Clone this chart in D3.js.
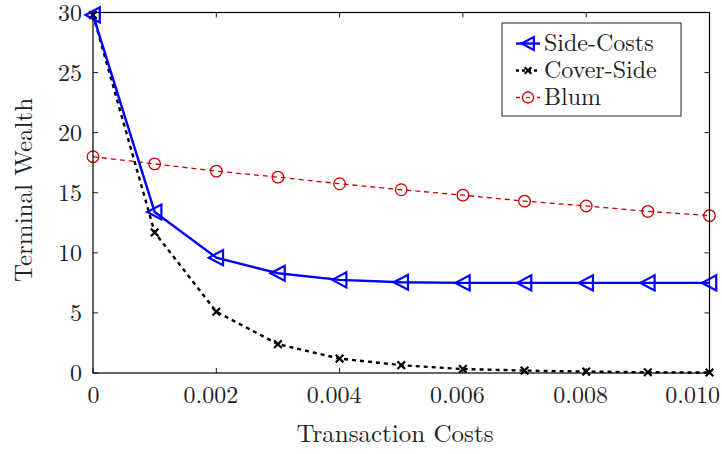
<!DOCTYPE html>
<html>
<head>
<meta charset="utf-8">
<script src="https://cdn.jsdelivr.net/npm/d3@7"></script>
<style>
  html, body { margin: 0; padding: 0; background: #fff; }
  svg { display: block; }
</style>
</head>
<body>
<div id="chart"></div>
<script>
// Transaction cost levels (x) and terminal wealth for each strategy
const costs = [0, 0.001, 0.002, 0.003, 0.004, 0.005, 0.006, 0.007, 0.008, 0.009, 0.010];
const sideCosts = [29.8, 13.4, 9.6, 8.3, 7.75, 7.55, 7.5, 7.5, 7.5, 7.5, 7.5];
const coverSide = [29.8, 11.7, 5.1, 2.4, 1.2, 0.65, 0.33, 0.2, 0.12, 0.06, 0.04];
const blum = [18.0, 17.4, 16.8, 16.3, 15.75, 15.25, 14.8, 14.3, 13.9, 13.45, 13.1];

const xTicks = [0, 0.002, 0.004, 0.006, 0.008, 0.010];
const xTickLabels = ["0", "0.002", "0.004", "0.006", "0.008", "0.010"];
const yTicks = [0, 5, 10, 15, 20, 25, 30];

const seriesNames = ["Side-Costs", "Cover-Side", "Blum"];

const FONT = "'Latin Modern Roman', 'Liberation Serif', serif";
const FS = 24;
const FS_TITLE = 25;
const INK = "#222";

const W = 722, H = 454;
const margin = { left: 93, right: 12.5, top: 12.5, bottom: 81 };

const svg = d3.select("#chart").append("svg")
  .attr("width", W).attr("height", H);

const x = d3.scaleLinear().domain([0, 0.010]).range([margin.left, W - margin.right]);
const y = d3.scaleLinear().domain([0, 30]).range([H - margin.bottom, margin.top]);

const x0 = x.range()[0], x1 = x.range()[1];
const y0 = y.range()[0], y1 = y.range()[1];

// Inward ticks on all four sides
const tickLen = 5;
const ticks = svg.append("g").attr("stroke", "#000").attr("stroke-width", 0.9);
xTicks.forEach(t => {
  ticks.append("line").attr("x1", x(t)).attr("x2", x(t)).attr("y1", y0).attr("y2", y0 - tickLen);
  ticks.append("line").attr("x1", x(t)).attr("x2", x(t)).attr("y1", y1).attr("y2", y1 + tickLen);
});
yTicks.forEach(t => {
  ticks.append("line").attr("x1", x0).attr("x2", x0 + tickLen).attr("y1", y(t)).attr("y2", y(t));
  ticks.append("line").attr("x1", x1).attr("x2", x1 - tickLen).attr("y1", y(t)).attr("y2", y(t));
});

// Tick labels via d3 axes (lines hidden, only text kept)
const xAxis = d3.axisBottom(x).tickValues(xTicks).tickSize(0).tickPadding(0)
  .tickFormat((d, i) => xTickLabels[i]);
const gx = svg.append("g").attr("transform", `translate(0,${y0})`).call(xAxis);
gx.select(".domain").remove();
gx.selectAll("text")
  .style("font-family", FONT).style("font-size", FS + "px").attr("fill", INK)
  .attr("dy", null).attr("y", 30)
  .each(function (d, i) {
    const t = d3.select(this);
    if (i === xTicks.length - 1) {
      t.attr("text-anchor", "end").attr("x", 10);
    } else if (i > 0) {
      t.attr("x", -6);
    }
  });

const yAxis = d3.axisLeft(y).tickValues(yTicks).tickSize(0).tickPadding(11);
const gy = svg.append("g").attr("transform", `translate(${x0},0)`).call(yAxis);
gy.select(".domain").remove();
gy.selectAll("text")
  .style("font-family", FONT).style("font-size", FS + "px").attr("fill", INK)
  .attr("dy", "0.33em");

// Axis titles
svg.append("text").attr("x", 395).attr("y", 442).attr("text-anchor", "middle")
  .style("font-family", FONT).style("font-size", FS_TITLE + "px").attr("fill", INK)
  .text("Transaction Costs");
svg.append("text").attr("transform", "translate(32,190) rotate(-90)").attr("text-anchor", "middle")
  .style("font-family", FONT).style("font-size", FS_TITLE + "px").attr("fill", INK)
  .text("Terminal Wealth");

const line = d3.line().x(d => x(d[0])).y(d => y(d[1]));
const plot = svg.append("g");

const triPath = s => `M${-s},0 L${s * 0.9},${-s} L${s * 0.9},${s} Z`;
const crossPath = s => `M${-s},${-s} L${s},${s} M${-s},${s} L${s},${-s}`;

function drawSeries(vals, opt) {
  const pts = costs.map((c, i) => [c, vals[i]]);
  plot.append("path").datum(pts).attr("d", line)
    .attr("fill", "none").attr("stroke", opt.color).attr("stroke-width", opt.width)
    .attr("stroke-dasharray", opt.dash || null);
  const mk = plot.append("g");
  pts.forEach(p => {
    const cx = x(p[0]), cy = y(p[1]);
    if (opt.marker === "tri") {
      mk.append("path").attr("d", triPath(7.5)).attr("transform", `translate(${cx},${cy})`)
        .attr("fill", "none").attr("stroke", opt.color).attr("stroke-width", 2.2);
    } else if (opt.marker === "x") {
      mk.append("path").attr("d", crossPath(3.8)).attr("transform", `translate(${cx},${cy})`)
        .attr("fill", "none").attr("stroke", opt.color).attr("stroke-width", 2.2);
    } else {
      mk.append("circle").attr("cx", cx).attr("cy", cy).attr("r", 5.8)
        .attr("fill", "none").attr("stroke", opt.color).attr("stroke-width", 1.3);
    }
  });
}

drawSeries(blum, { color: "#cc0000", width: 1.3, dash: "5,4", marker: "o" });
drawSeries(coverSide, { color: "#000", width: 2.4, dash: "4,4", marker: "x" });
drawSeries(sideCosts, { color: "#0000ff", width: 2.4, marker: "tri" });

// Frame
svg.append("rect").attr("x", x0).attr("y", y1).attr("width", x1 - x0).attr("height", y0 - y1)
  .attr("fill", "none").attr("stroke", "#000").attr("stroke-width", 1.2);

// Legend
const lg = svg.append("g");
lg.append("rect").attr("x", 502).attr("y", 23).attr("width", 179).attr("height", 93)
  .attr("fill", "#fff").attr("stroke", "#222").attr("stroke-width", 1);
const legendStyles = [
  { color: "#0000ff", width: 2.4, dash: null, marker: "tri" },
  { color: "#000", width: 2.4, dash: "3,3", marker: "x" },
  { color: "#cc0000", width: 1.3, dash: "4,3", marker: "o" }
];
seriesNames.forEach((name, i) => {
  const cy = 43.5 + i * 27, lx0 = 516, lx1 = 540, cx = 528;
  const st = legendStyles[i];
  lg.append("line").attr("x1", lx0).attr("x2", lx1).attr("y1", cy).attr("y2", cy)
    .attr("stroke", st.color).attr("stroke-width", st.width).attr("stroke-dasharray", st.dash);
  if (st.marker === "tri") {
    lg.append("path").attr("d", triPath(6.5)).attr("transform", `translate(${cx},${cy})`)
      .attr("fill", "none").attr("stroke", st.color).attr("stroke-width", 2.2);
  } else if (st.marker === "x") {
    lg.append("path").attr("d", crossPath(3.3)).attr("transform", `translate(${cx},${cy})`)
      .attr("fill", "none").attr("stroke", st.color).attr("stroke-width", 2.2);
  } else {
    lg.append("circle").attr("cx", cx).attr("cy", cy).attr("r", 5.5)
      .attr("fill", "#fff").attr("stroke", st.color).attr("stroke-width", 1.3);
    lg.append("line").attr("x1", cx - 2).attr("x2", cx + 2).attr("y1", cy).attr("y2", cy)
      .attr("stroke", st.color).attr("stroke-width", 1.3);
  }
  lg.append("text").attr("x", 544).attr("y", cy).attr("dy", "0.33em")
    .style("font-family", FONT).style("font-size", FS + "px").attr("fill", INK)
    .text(name);
});
</script>
</body>
</html>
